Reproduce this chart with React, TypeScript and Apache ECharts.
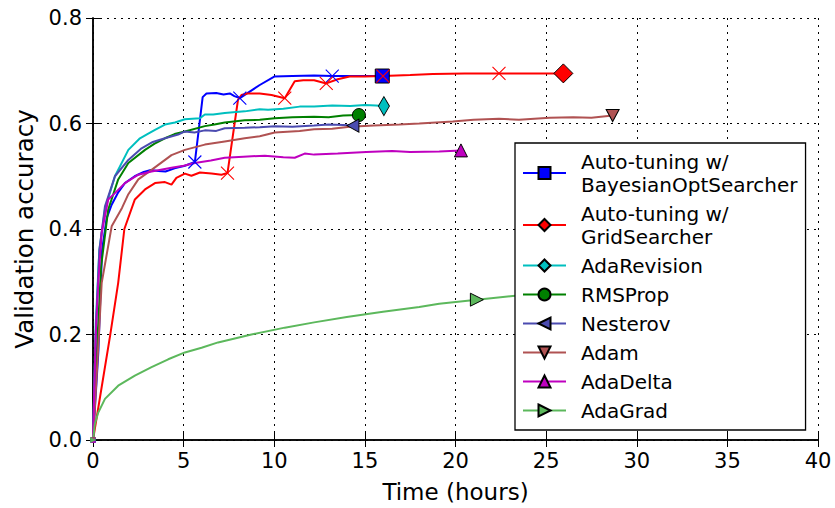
import React, { useEffect, useRef } from "react";
import * as echarts from "echarts";

const FONT = "DejaVu Sans";

// [time (hours), validation accuracy]
const bayesianOpt: [number, number][] = [
  [0, 0], [0.3, 0.17], [0.5, 0.36], [0.75, 0.42], [1.03, 0.446], [1.4, 0.47], [1.76, 0.487],
  [2.3, 0.5], [2.8, 0.508], [3.2, 0.512], [3.6, 0.51], [4.0, 0.509], [4.5, 0.515], [5.07, 0.52],
  [5.62, 0.527], [6.05, 0.65], [6.26, 0.657], [6.8, 0.658], [7.2, 0.655], [7.55, 0.657],
  [7.8, 0.652], [8.1, 0.648], [9.2, 0.673], [10.0, 0.689], [11.0, 0.69], [12.2, 0.691],
  [13.2, 0.69], [14.5, 0.69], [15.96, 0.69],
];
const bayesianOptX = [14, 21, 26];

const gridSearch: [number, number][] = [
  [0, 0], [0.94, 0.197], [1.39, 0.298], [1.73, 0.4], [2.31, 0.456], [2.87, 0.475], [3.42, 0.487],
  [3.97, 0.489], [4.33, 0.484], [4.6, 0.497], [5.07, 0.505], [5.43, 0.501], [5.9, 0.507],
  [6.54, 0.505], [7.09, 0.503], [7.42, 0.506], [8.0, 0.645], [8.19, 0.654], [8.5, 0.657],
  [9.2, 0.657], [9.85, 0.654], [10.58, 0.648], [11.13, 0.68], [11.6, 0.682], [12.2, 0.682],
  [12.87, 0.676], [13.5, 0.684], [14.16, 0.689], [15.0, 0.689], [16.0, 0.69], [17.5, 0.692],
  [18.75, 0.694], [20.5, 0.695], [22.4, 0.695], [24.0, 0.695], [25.95, 0.695],
];
const gridSearchX = [15, 21, 25, 29, 33];

const adaRevision: [number, number][] = [
  [0, 0], [0.15, 0.22], [0.35, 0.36], [0.66, 0.437], [1.21, 0.5], [1.95, 0.55], [2.59, 0.572],
  [3.0, 0.58], [3.42, 0.588], [3.97, 0.598], [4.52, 0.602], [5.07, 0.608], [5.9, 0.61],
  [6.17, 0.617], [6.63, 0.617], [7.27, 0.62], [8.37, 0.623], [9.2, 0.627], [9.66, 0.626],
  [10.5, 0.628], [11.4, 0.632], [12.2, 0.632], [13.2, 0.634], [14.2, 0.633], [15.0, 0.635],
  [15.6, 0.634], [16.05, 0.633],
];

const rmsProp: [number, number][] = [
  [0, 0], [0.2, 0.16], [0.45, 0.33], [0.84, 0.437], [1.39, 0.494], [1.95, 0.525], [2.87, 0.55],
  [3.4, 0.562], [3.97, 0.572], [4.5, 0.58], [5.07, 0.585], [6.17, 0.595], [6.7, 0.598],
  [7.27, 0.602], [8.37, 0.606], [9.2, 0.607], [10.03, 0.61], [11.0, 0.612], [12.2, 0.613],
  [13.0, 0.612], [13.8, 0.615], [14.67, 0.616],
];

const nesterov: [number, number][] = [
  [0, 0], [0.15, 0.2], [0.35, 0.36], [0.66, 0.443], [1.21, 0.5], [1.95, 0.531], [2.68, 0.553],
  [3.3, 0.565], [3.97, 0.572], [4.7, 0.579], [5.07, 0.585], [5.6, 0.583], [6.17, 0.587],
  [6.8, 0.586], [7.27, 0.591], [8.37, 0.592], [9.2, 0.593], [10.03, 0.595], [11.0, 0.594],
  [12.2, 0.596], [13.0, 0.598], [13.8, 0.597], [14.34, 0.596],
];

const adam: [number, number][] = [
  [0, 0], [0.2, 0.12], [0.48, 0.298], [1.03, 0.405], [1.6, 0.44], [1.95, 0.466], [2.5, 0.494],
  [3.23, 0.512], [4.33, 0.54], [5.07, 0.55], [6.17, 0.56], [7.27, 0.566], [8.37, 0.572],
  [9.2, 0.576], [10.03, 0.583], [11.4, 0.586], [12.2, 0.589], [13.2, 0.59], [14.16, 0.594],
  [15.5, 0.596], [16.9, 0.598], [18.0, 0.6], [19.85, 0.604], [21.0, 0.607], [22.4, 0.609],
  [23.5, 0.607], [25.2, 0.611], [26.5, 0.612], [27.5, 0.611], [28.67, 0.615],
];

const adaDelta: [number, number][] = [
  [0, 0], [0.15, 0.2], [0.29, 0.298], [0.48, 0.393], [0.84, 0.456], [1.21, 0.468], [1.76, 0.487],
  [2.5, 0.503], [3.23, 0.509], [4.33, 0.516], [5.0, 0.52], [5.62, 0.525], [6.5, 0.53],
  [7.27, 0.535], [8.3, 0.537], [9.48, 0.539], [10.5, 0.536], [11.13, 0.535], [11.68, 0.543],
  [12.2, 0.541], [13.5, 0.543], [15.08, 0.546], [16.5, 0.548], [17.5, 0.546], [19.1, 0.547],
  [20.3, 0.549],
];

const adaGrad: [number, number][] = [
  [0, 0], [0.1, 0.03], [0.29, 0.052], [0.66, 0.078], [1.39, 0.103], [2.31, 0.122], [3.23, 0.138],
  [4.15, 0.153], [5.07, 0.166], [5.99, 0.175], [6.9, 0.185], [8.74, 0.2], [10.58, 0.213],
  [12.2, 0.223], [14.0, 0.233], [16.0, 0.243], [18.0, 0.252], [19.1, 0.2585], [21.18, 0.266],
  [23.16, 0.273], [24.5, 0.277],
];

const xTicks = [0, 5, 10, 15, 20, 25, 30, 35, 40];
const yTicks = [0.0, 0.2, 0.4, 0.6, 0.8];

const X_PATH = "path://M0,0L10,10M10,0L0,10";
const LEFT_TRI = "path://M0,5L10,0L10,10Z";
const DOWN_TRI = "path://M0,0L10,0L5,10Z";
const RIGHT_TRI = "path://M0,0L10,5L0,10Z";

type Spec = {
  name: string;
  data: [number, number][];
  color: string;
  symbol: string;
  size: number | number[];
  markIdx: number;
  xIdx: number[];
};

const specs: Spec[] = [
  { name: "Auto-tuning w/\nBayesianOptSearcher", data: bayesianOpt, color: "#0000ff", symbol: "rect", size: 14, markIdx: bayesianOpt.length - 1, xIdx: bayesianOptX },
  { name: "Auto-tuning w/\nGridSearcher", data: gridSearch, color: "#ff0000", symbol: "diamond", size: 19, markIdx: gridSearch.length - 1, xIdx: gridSearchX },
  { name: "AdaRevision", data: adaRevision, color: "#00bfbf", symbol: "diamond", size: [11, 19], markIdx: adaRevision.length - 1, xIdx: [] },
  { name: "RMSProp", data: rmsProp, color: "#008000", symbol: "circle", size: 13, markIdx: rmsProp.length - 1, xIdx: [] },
  { name: "Nesterov", data: nesterov, color: "#4b4bb0", symbol: LEFT_TRI, size: [12, 13], markIdx: nesterov.length - 1, xIdx: [] },
  { name: "Adam", data: adam, color: "#b05252", symbol: DOWN_TRI, size: [13, 12], markIdx: adam.length - 1, xIdx: [] },
  { name: "AdaDelta", data: adaDelta, color: "#bf00bf", symbol: "triangle", size: 13, markIdx: adaDelta.length - 1, xIdx: [] },
  { name: "AdaGrad", data: adaGrad, color: "#5cb85c", symbol: RIGHT_TRI, size: 13, markIdx: 18, xIdx: [] },
];

export default function App() {
  const ref = useRef<HTMLDivElement>(null);

  useEffect(() => {
    document.body.style.margin = "0";
    if (!ref.current) return;
    const chart = echarts.init(ref.current, undefined, { renderer: "svg" });

    const series = specs.map((s) => ({
      type: "line",
      name: s.name,
      color: s.color,
      symbol: s.symbol,
      symbolSize: s.size,
      lineStyle: { color: s.color, width: 2 },
      itemStyle: { color: s.color, borderColor: "#000", borderWidth: 1 },
      emphasis: { disabled: true },
      data: s.data.map((p, i) => {
        if (i === s.markIdx) return { value: p, symbol: s.symbol, symbolSize: s.size };
        if (s.xIdx.includes(i))
          return {
            value: p,
            symbol: X_PATH,
            symbolSize: 13,
            itemStyle: { color: "rgba(0,0,0,0)", borderColor: s.color, borderWidth: 1.1 },
          };
        if (i === 0)
          return { value: p, symbol: s.symbol, symbolSize: 5, itemStyle: { borderWidth: 0.5, borderColor: s.color } };
        return { value: p, symbol: "none" };
      }),
    }));

    const axisLineStyle = { color: "#000", width: 1.5 };
    const tickStyle = { show: true, inside: true, length: 7, lineStyle: { color: "#000", width: 1 } };

    chart.setOption({
      animation: false,
      backgroundColor: "#fff",
      textStyle: { fontFamily: FONT },
      grid: { left: 93, right: 17, top: 18, bottom: 66, containLabel: false },
      xAxis: [
        {
          type: "value",
          min: xTicks[0],
          max: xTicks[xTicks.length - 1],
          interval: xTicks[1] - xTicks[0],
          position: "bottom",
          name: "Time (hours)",
          nameLocation: "middle",
          nameGap: 40,
          nameTextStyle: { fontSize: 23, color: "#000", fontFamily: FONT },
          axisLine: { show: true, lineStyle: axisLineStyle },
          axisTick: tickStyle,
          axisLabel: { fontSize: 21, color: "#000", margin: 10, fontFamily: FONT },
          splitLine: { show: true, lineStyle: { color: "#000", type: [2, 5], width: 1 } },
        },
        {
          type: "value",
          min: xTicks[0],
          max: xTicks[xTicks.length - 1],
          interval: xTicks[1] - xTicks[0],
          position: "top",
          axisLine: { show: true, lineStyle: axisLineStyle },
          axisTick: tickStyle,
          axisLabel: { show: false },
          splitLine: { show: false },
        },
      ],
      yAxis: [
        {
          type: "value",
          min: yTicks[0],
          max: yTicks[yTicks.length - 1],
          interval: 0.2,
          position: "left",
          name: "Validation accuracy",
          nameLocation: "middle",
          nameGap: 56,
          nameTextStyle: { fontSize: 24.5, color: "#000", fontFamily: FONT },
          axisLine: { show: true, lineStyle: axisLineStyle },
          axisTick: tickStyle,
          axisLabel: {
            fontSize: 21,
            color: "#000",
            margin: 11,
            fontFamily: FONT,
            formatter: (v: number) => v.toFixed(1),
          },
          splitLine: { show: true, lineStyle: { color: "#000", type: [2, 5], width: 1 } },
        },
        {
          type: "value",
          min: yTicks[0],
          max: yTicks[yTicks.length - 1],
          interval: 0.2,
          position: "right",
          axisLine: { show: true, lineStyle: axisLineStyle },
          axisTick: tickStyle,
          axisLabel: { show: false },
          splitLine: { show: false },
        },
      ],
      legend: {
        orient: "vertical",
        left: 515,
        top: 143,
        padding: [7, 8, 8, 7],
        itemWidth: 43,
        itemHeight: 15,
        itemGap: 6,
        backgroundColor: "#fff",
        borderColor: "#000",
        borderWidth: 1.3,
        borderRadius: 0,
        selectedMode: false,
        textStyle: {
          fontSize: 20,
          lineHeight: 23,
          color: "#000",
          fontFamily: FONT,
          padding: [0, 0, 0, 10],
        },
        data: specs.map((s) => s.name),
      },
      series,
    });

    return () => chart.dispose();
  }, []);

  return <div ref={ref} style={{ width: 835, height: 508 }} />;
}
